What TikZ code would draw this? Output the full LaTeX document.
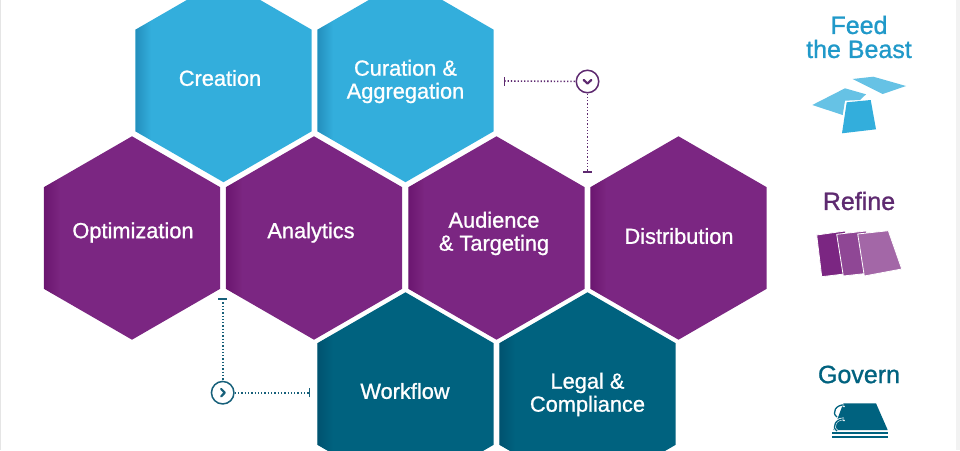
\documentclass[tikz,border=0pt]{standalone}
\usepackage{fontspec}
\setmainfont[RawFeature={embolden=1.0}]{Liberation Sans}
\usetikzlibrary{shapes.geometric}
\definecolor{cblue}{HTML}{33AEDC}
\definecolor{cpurple}{HTML}{7B2682}
\definecolor{cteal}{HTML}{00627F}
\definecolor{lineP}{HTML}{5E2A70}
\definecolor{lineT}{HTML}{17607A}
\definecolor{keyblue}{HTML}{2099C9}
\tikzset{
  x=1pt,y=-1pt,
  hex/.style={regular polygon,regular polygon sides=6,regular polygon rotate=30,minimum size=203.4pt,inner sep=0pt,outer sep=0pt,fill=#1,
    path picture={\foreach \i in {1,...,16}{\fill[black,opacity=0.007] (path picture bounding box.south west) rectangle ([xshift=\i pt]path picture bounding box.north west);}}},
  blue hex/.style={hex=cblue},
  purple hex/.style={hex=cpurple},
  teal hex/.style={hex=cteal},
  hextext/.style={text=white,font=\fontsize{21.8}{23}\selectfont,align=center,inner sep=0pt},
  keytext/.style={font=\fontsize{25}{24}\selectfont,align=center,inner sep=0pt},
  dots/.style={line width=1.6pt,dash pattern=on 1.3pt off 2pt},
  tick/.style={line width=1.6pt},
  badge/.style={circle,draw,line width=1.5pt,fill=white,minimum size=22.5pt,inner sep=0pt},
  chev/.style={line width=2.2pt,line cap=round,line join=round},
  sheet/.style={draw=white,line width=0.8pt,line join=round},
}
\begin{document}
\begin{tikzpicture}
\useasboundingbox (0,0) rectangle (960,450);
\clip (0,0) rectangle (960,450);
\fill[white] (0,0) rectangle (960,450);
\fill[black!10] (0,0) rectangle (1.2,450);
\fill[black!5] (955.5,0) rectangle (960,450);
% hexagons
\node[blue hex] (creation) at (223.5,80.5) {};
\node[blue hex] (curation) at (405.5,80.5) {};
\node[purple hex] (optim) at (132,238) {};
\node[purple hex] (analytics) at (314,238) {};
\node[purple hex] (audience) at (496.5,238) {};
\node[purple hex] (distrib) at (678.5,238) {};
\node[teal hex] (workflow) at (405.5,394) {};
\node[teal hex] (legal) at (587.5,394) {};
% hexagon labels
\node[hextext] (tcreation) at (220,78) {Creation};
\node[hextext] (tcuration) at (405.5,81.5) {Curation \&\\Aggregation};
\node[hextext] (toptim) at (133,232.5) {Optimization};
\node[hextext] (tanalytics) at (311,232.5) {Analytics};
\node[hextext] (taudience) at (494,233.5) {Audience\\\& Targeting};
\node[hextext] (tdistrib) at (679,236) {Distribution};
\node[hextext] (tworkflow) at (405,391) {Workflow};
\node[hextext] (tlegal) at (587.5,394.5) {Legal \&\\Compliance};
% connector top
\coordinate (tickA) at (504.3,81);
\coordinate (tickB) at (587.5,172);
\node[badge,draw=lineP] (badgeA) at (587.5,81.5) {};
\draw[dots,draw=lineP] (tickA) -- (badgeA);
\draw[dots,draw=lineP] (badgeA) -- (tickB);
\draw[tick,draw=lineP] ([yshift=-4.5pt]tickA) -- ([yshift=4.5pt]tickA);
\draw[tick,draw=lineP] ([xshift=-4.5pt]tickB) -- ([xshift=4.5pt]tickB);
\draw[chev,draw=lineP] (583.7,80) -- (587.5,83.5) -- (591.3,80);
% connector bottom
\coordinate (tickC) at (222.7,299);
\coordinate (tickD) at (309.3,392.7);
\node[badge,draw=lineT] (badgeB) at (222.7,392.7) {};
\draw[dots,draw=lineT] (tickC) -- (badgeB);
\draw[dots,draw=lineT] (badgeB) -- (tickD);
\draw[tick,draw=lineT] ([xshift=-4.5pt]tickC) -- ([xshift=4.5pt]tickC);
\draw[tick,draw=lineT] ([yshift=-4.5pt]tickD) -- ([yshift=4.5pt]tickD);
\draw[chev,draw=lineT] (221.2,389) -- (224.7,392.7) -- (221.2,396.4);
% key
\node[keytext,text=keyblue] (kfeed) at (859,37) {Feed\\the Beast};
\node[keytext,text=lineP] (krefine) at (859,201) {Refine};
\node[keytext,text=cteal] (kgovern) at (859,374.5) {Govern};
% feed icon
\fill[cblue!75!white] (852.7,79) -- (873.3,76.7) -- (906,86) -- (882.7,94) -- cycle;
\fill[cblue!75!white] (812.3,105) -- (845,88.3) -- (866,94.3) -- (860,100) -- (845,100.7) -- (842.7,115) -- cycle;
\fill[cblue] (846.7,102.3) -- (870.7,100) -- (876,129.3) -- (842,133.3) -- cycle;
% refine icon
\fill[sheet,fill=cpurple] (816.7,235) -- (845,231) -- (861,272) -- (821.7,276.7) -- cycle;
\fill[sheet,fill=cpurple!85!white] (836.7,234.3) -- (866,231) -- (882,271.7) -- (843.3,276) -- cycle;
\fill[sheet,fill=cpurple!70!white] (857.7,234) -- (888.3,230.7) -- (901.7,269) -- (864.3,276) -- cycle;
% govern icon
\fill[cteal] (843.3,403.3) -- (876,403.3) -- (887.7,430) -- (833.3,430) -- cycle;
\fill[cteal] (832.3,431.5) rectangle (887.7,433.6);
\fill[cteal] (832.3,435.6) rectangle (887.7,438);
\foreach \ry in {405,419}{
  \draw[white,line width=2.6pt] (844,\ry) .. controls (836,\ry-1) and (831,\ry+8) .. (837,\ry+12);
  \draw[cteal,line width=1.3pt] (845,\ry) .. controls (836,\ry-1) and (831,\ry+8) .. (837,\ry+12);
  \fill[white] (844,\ry+1.5) circle (0.8pt);
}
\end{tikzpicture}
\end{document}
